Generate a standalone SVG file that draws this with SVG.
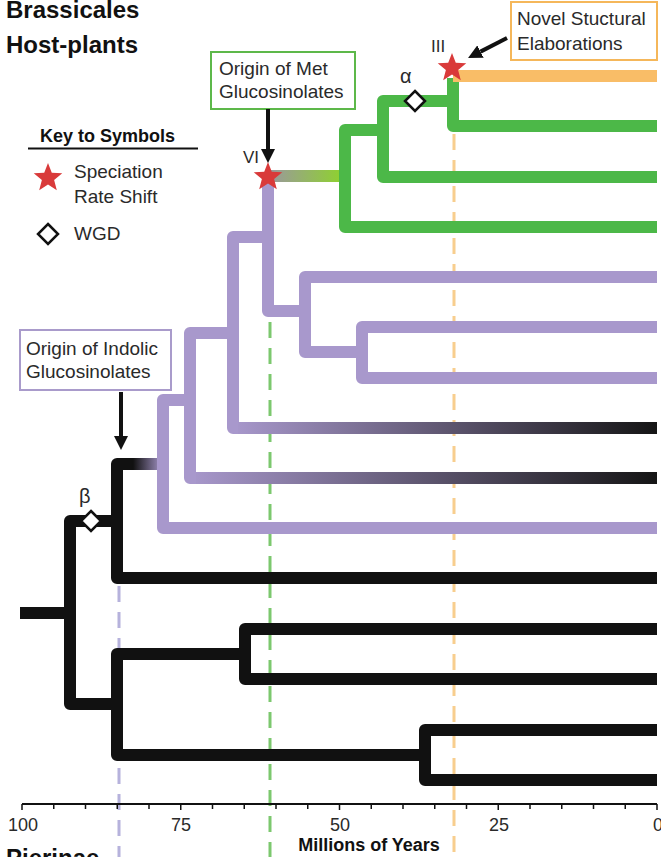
<svg xmlns="http://www.w3.org/2000/svg" width="661" height="857" viewBox="0 0 661 857">
<style>
text{font-family:"Liberation Sans",Arial,sans-serif;fill:#2a2a2a}
.t18{font-size:18px}
.t19{font-size:19px}
.b{font-weight:bold;fill:#111}
.br{fill:none;stroke-width:12;stroke-linejoin:round;stroke-linecap:butt}
.blk{stroke:#111}
.pur{stroke:#A898CC}
.grn{stroke:#4CB848}
.dash{fill:none;stroke-width:3;stroke-dasharray:16 10}
.box{fill:#fff;stroke-width:2}
.arr{stroke:#111;stroke-width:4;fill:none;marker-end:url(#ah)}
.wgd{fill:#fff;stroke:#111;stroke-width:2.5}
.star{fill:#D93A3A}
</style>
<defs>
<polygon id="star" points="0,-15 3.78,-5.2 14.27,-4.64 6.12,1.98 8.82,12.14 0,6.4 -8.82,12.14 -6.12,1.98 -14.27,-4.64 -3.78,-5.2"/>
<polygon id="dia" points="0,-10 10,0 0,10 -10,0"/>
<marker id="ah" markerUnits="userSpaceOnUse" markerWidth="14" markerHeight="14" viewBox="0 0 10 10" refX="0" refY="5" orient="auto">
<path d="M0,0 L10,5 L0,10 z" fill="#111"/>
</marker>
<linearGradient id="gStem" gradientUnits="userSpaceOnUse" x1="117" y1="0" x2="163" y2="0">
<stop offset="0.35" stop-color="#111"/><stop offset="1" stop-color="#A898CC"/>
</linearGradient>
<linearGradient id="g428" gradientUnits="userSpaceOnUse" x1="233" y1="0" x2="657" y2="0">
<stop offset="0" stop-color="#A898CC"/><stop offset="1" stop-color="#151515"/>
</linearGradient>
<linearGradient id="g478" gradientUnits="userSpaceOnUse" x1="190" y1="0" x2="657" y2="0">
<stop offset="0" stop-color="#A898CC"/><stop offset="1" stop-color="#151515"/>
</linearGradient>
<linearGradient id="gGreen" gradientUnits="userSpaceOnUse" x1="272" y1="0" x2="345" y2="0">
<stop offset="0" stop-color="#9A9A9A"/><stop offset="1" stop-color="#8ED42A"/>
</linearGradient>
</defs>

<!-- titles -->
<g id="title">
<text class="b" x="6" y="18" font-size="24">Brassicales</text>
<text class="b" x="6" y="53" font-size="24">Host-plants</text>
</g>
<g id="bottom-title">
<text class="b" x="6" y="866" font-size="24">Pierinae</text>
</g>

<!-- key -->
<g id="key">
<text class="b t18" x="40" y="142">Key to Symbols</text>
<line x1="28" y1="148.5" x2="198" y2="148.5" stroke="#111" stroke-width="1.8"/>
<use href="#star" class="star" transform="translate(48,178)"/>
<text class="t19" x="74" y="178">Speciation</text>
<text class="t19" x="74" y="203">Rate Shift</text>
<use href="#dia" class="wgd" transform="translate(48,234)"/>
<text class="t19" x="74" y="240">WGD</text>
</g>

<!-- time slices -->
<g id="time-slices">
<line class="dash" x1="119" y1="586" x2="119" y2="857" stroke="#B6B2DC"/>
<line class="dash" x1="270" y1="192" x2="270" y2="857" stroke="#7CC86E"/>
<line class="dash" x1="454" y1="82" x2="454" y2="857" stroke="#F8CE8E"/>
</g>

<!-- connectors (branches) -->
<g id="connectors">
<path class="br blk" d="M20 613 H70" stroke-linecap="round"/>
<path class="br blk" d="M117 521 H70 V704 H117"/>
<path class="br blk" d="M125 464 H117 V578 H657"/>
<path class="br" d="M117 464 H165" stroke="url(#gStem)"/>
<path class="br blk" d="M245 654 H117 V755 H425"/>
<path class="br blk" d="M657 629 H245 V679 H657"/>
<path class="br blk" d="M657 730 H425 V780 H657"/>

<path class="br pur" d="M190 400 H163 V528 H657"/>
<path class="br pur" d="M233 333 H190 V478 H200"/>
<path class="br" d="M196 478 H657" stroke="url(#g478)"/>
<path class="br pur" d="M268 237 H233 V428 H242"/>
<path class="br" d="M238 428 H657" stroke="url(#g428)"/>
<path class="br pur" d="M268 180 V311 H305"/>
<path class="br pur" d="M657 277 H305 V352 H362"/>
<path class="br pur" d="M657 327 H362 V378 H657"/>

<path class="br" d="M268 176 H346" stroke="url(#gGreen)"/>
<path class="br grn" d="M383 130 H345 V227 H657"/>
<path class="br grn" d="M453 101 H383 V177 H657"/>
<path class="br grn" d="M453 78 V126 H657"/>
<path class="br" d="M453 76 H657" stroke="#F9BD67" stroke-width="11"/>
</g>

<!-- events -->
<g id="wgd-beta">
<use href="#dia" class="wgd" transform="translate(91,521)"/>
<text x="79" y="503" font-size="20">β</text>
</g>
<g id="wgd-alpha">
<use href="#dia" class="wgd" transform="translate(415,101)"/>
<text x="400" y="83" font-size="20">α</text>
</g>
<g id="star-VI">
<use href="#star" class="star" transform="translate(268,177)"/>
<text x="243" y="163" font-size="17">VI</text>
</g>
<g id="star-III">
<use href="#star" class="star" transform="translate(452,68)"/>
<text x="431" y="52" font-size="17">III</text>
</g>

<!-- annotation boxes -->
<g id="box-met">
<rect class="box" x="211" y="52" width="144" height="57" stroke="#5DB84A"/>
<text class="t19" x="219" y="75">Origin of Met</text>
<text class="t19" x="219" y="98">Glucosinolates</text>
<line class="arr" x1="268" y1="109" x2="268" y2="149"/>
</g>
<g id="box-novel">
<rect class="box" x="511" y="2" width="146" height="58" stroke="#F5B75A"/>
<text class="t19" x="517" y="25">Novel Stuctural</text>
<text class="t19" x="517" y="50">Elaborations</text>
<line class="arr" x1="507" y1="38" x2="480.5" y2="51.6"/>
</g>
<g id="box-indolic">
<rect class="box" x="20" y="330" width="151" height="60" stroke="#A99BCB"/>
<text class="t19" x="26" y="355">Origin of Indolic</text>
<text class="t19" x="26" y="378">Glucosinolates</text>
<line class="arr" x1="121" y1="392" x2="121" y2="436"/>
</g>

<!-- axis -->
<g id="axis">
<line x1="22" y1="804" x2="657" y2="804" stroke="#111" stroke-width="1.8"/>
<path d="M22 804v6M53.75 804v5M85.5 804v5M117.25 804v5M149 804v5M180.75 804v6M212.5 804v5M244.25 804v5M276 804v5M307.75 804v5M339.5 804v6M371.25 804v5M403 804v5M434.75 804v5M466.5 804v5M498.25 804v6M530 804v5M561.75 804v5M593.5 804v5M625.25 804v5M657 804v6" stroke="#111" stroke-width="1.5"/>
<g class="t18" text-anchor="middle">
<text x="23" y="831">100</text>
<text x="181" y="831">75</text>
<text x="340" y="831">50</text>
<text x="499" y="831">25</text>
<text x="658" y="831">0</text>
</g>
<text class="b t18" x="369" y="851" text-anchor="middle">Millions of Years</text>
</g>
</svg>
